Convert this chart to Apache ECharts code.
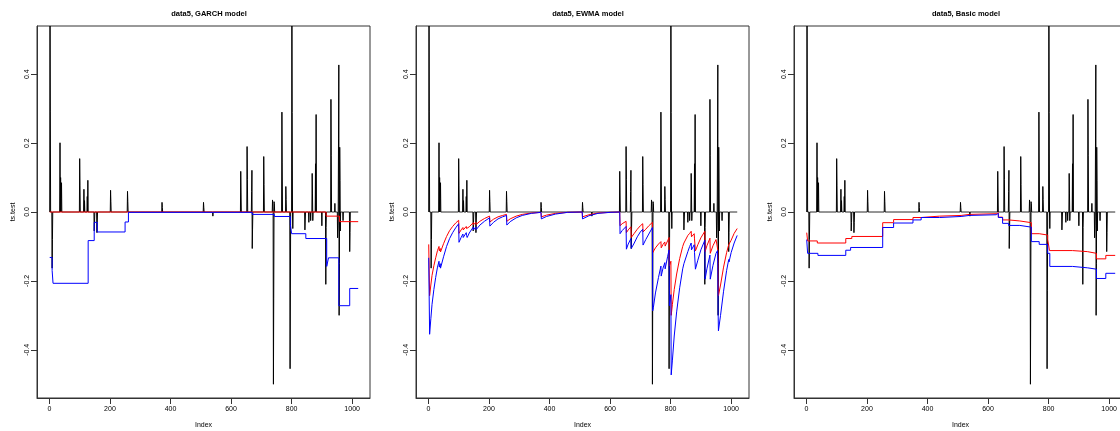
<!DOCTYPE html>
<html>
<head>
<meta charset="utf-8">
<script src="https://cdn.jsdelivr.net/npm/echarts@6/dist/echarts.min.js"></script>
<style>
  html, body { margin: 0; padding: 0; background: #ffffff; }
  #chart { width: 1120px; height: 431px; }
</style>
</head>
<body>
<div id="chart"></div>
<script>
// ---- data: test returns (sparse: every index not listed is exactly 0) ----
const N = 1020;
const spikeIndex = [2, 3, 9, 10, 35, 37, 39, 40, 100, 101, 114, 116, 125, 127, 148, 149, 157, 158,
  202, 203, 258, 259, 372, 373, 509, 510, 540, 632, 633, 653, 654, 668, 669, 670, 671, 708, 709,
  737, 738, 740, 741, 742, 743, 768, 769, 781, 782, 795, 796, 801, 802, 804, 844, 845, 857, 863,
  868, 869, 870, 879, 881, 900, 913, 914, 930, 931, 943, 952, 953, 955, 956, 957, 958, 959, 960,
  961, 970, 992, 993];
const spikeValue = [0.62, 0.293, -0.163, -0.08, 0.201, 0.10, 0.04, 0.085, 0.155, 0.078, 0.066, 0.033,
  0.045, 0.092, -0.055, -0.03, -0.06, -0.03, 0.063, 0.031, 0.06, 0.03, 0.028, 0.013, 0.028, 0.013,
  -0.012, 0.118, 0.058, 0.19, 0.095, 0.06, 0.121, -0.106, -0.052, 0.161, 0.08, 0.035, 0.015, -0.5,
  -0.25, 0.03, 0.025, 0.29, 0.145, 0.074, 0.036, -0.455, -0.227, 0.62, 0.289, -0.048, -0.052, -0.026,
  -0.03, -0.025, 0.112, 0.055, -0.025, 0.14, 0.283, -0.04, -0.21, -0.045, 0.327, 0.163, 0.025,
  -0.075, -0.04, 0.212, 0.427, -0.3, -0.15, 0.188, 0.092, -0.055, -0.025, -0.115, -0.06];

// ---- GARCH model VaR: step levels as [first index, value] ----
const garchRed = [[1, 0], [914, -0.012], [958, -0.028]];
const garchBlue = [[1, -0.132], [9, -0.17], [12, -0.207], [128, -0.083], [148, -0.03], [158, -0.058],
  [250, -0.029], [261, -0.001], [670, -0.007], [743, -0.013], [796, -0.037], [800, -0.063],
  [847, -0.077], [916, -0.158], [922, -0.133], [956, -0.272], [992, -0.222]];

// ---- EWMA model VaR: [index, value] ----
const ewmaRed = [[1, -0.094], [3, -0.094], [4, -0.243], [8, -0.212], [12, -0.184], [18, -0.156],
  [24, -0.133], [30, -0.112], [35, -0.1], [36, -0.113], [39, -0.106], [40, -0.116], [41, -0.118],
  [50, -0.092], [60, -0.071], [70, -0.054], [80, -0.042], [90, -0.032], [100, -0.024], [101, -0.062],
  [108, -0.052], [114, -0.045], [115, -0.052], [125, -0.042], [126, -0.048], [128, -0.052],
  [135, -0.043], [148, -0.031], [149, -0.037], [157, -0.03], [158, -0.036], [170, -0.027],
  [185, -0.019], [202, -0.012], [203, -0.029], [215, -0.021], [230, -0.014], [245, -0.01],
  [258, -0.007], [259, -0.027], [270, -0.02], [290, -0.012], [310, -0.007], [340, -0.003],
  [372, -0.001], [373, -0.014], [390, -0.009], [420, -0.004], [460, -0.001], [508, 0], [509, -0.014],
  [530, -0.008], [560, -0.003], [600, -0.001], [632, 0], [633, -0.04], [640, -0.034], [653, -0.027],
  [654, -0.06], [660, -0.052], [669, -0.043], [670, -0.074], [680, -0.062], [690, -0.05],
  [700, -0.04], [708, -0.034], [709, -0.058], [718, -0.05], [728, -0.04], [740, -0.03],
  [741, -0.118], [743, -0.114], [750, -0.104], [760, -0.093], [768, -0.086], [769, -0.104],
  [775, -0.094], [781, -0.087], [782, -0.099], [790, -0.084], [795, -0.074], [796, -0.157],
  [801, -0.143], [802, -0.3], [806, -0.268], [812, -0.225], [820, -0.18], [830, -0.135], [840, -0.1],
  [844, -0.09], [845, -0.093], [857, -0.068], [858, -0.07], [863, -0.062], [864, -0.063],
  [868, -0.056], [869, -0.072], [878, -0.063], [879, -0.078], [881, -0.074], [882, -0.113],
  [890, -0.095], [900, -0.075], [913, -0.056], [914, -0.115], [920, -0.098], [930, -0.076],
  [931, -0.12], [940, -0.098], [950, -0.08], [953, -0.082], [955, -0.078], [956, -0.11], [957, -0.2],
  [958, -0.243], [960, -0.245], [965, -0.212], [975, -0.16], [985, -0.118], [992, -0.095],
  [993, -0.1], [1000, -0.082], [1010, -0.062], [1020, -0.048]];
const ewmaBlue = [[1, -0.133], [3, -0.133], [4, -0.355], [8, -0.31], [12, -0.268], [18, -0.225],
  [24, -0.19], [30, -0.16], [35, -0.143], [36, -0.16], [39, -0.15], [40, -0.163], [41, -0.168],
  [50, -0.13], [60, -0.1], [70, -0.077], [80, -0.06], [90, -0.046], [100, -0.034], [101, -0.088],
  [108, -0.074], [114, -0.064], [115, -0.074], [125, -0.06], [126, -0.068], [128, -0.074],
  [135, -0.061], [148, -0.044], [149, -0.052], [157, -0.043], [158, -0.051], [170, -0.038],
  [185, -0.027], [202, -0.017], [203, -0.041], [215, -0.03], [230, -0.02], [245, -0.014],
  [258, -0.01], [259, -0.038], [270, -0.028], [290, -0.017], [310, -0.01], [340, -0.004],
  [372, -0.001], [373, -0.02], [390, -0.013], [420, -0.006], [460, -0.001], [508, 0], [509, -0.02],
  [530, -0.011], [560, -0.004], [600, -0.001], [632, 0], [633, -0.063], [640, -0.054], [653, -0.042],
  [654, -0.108], [660, -0.093], [669, -0.077], [670, -0.106], [680, -0.09], [690, -0.072],
  [700, -0.058], [708, -0.05], [709, -0.096], [718, -0.08], [728, -0.064], [740, -0.045],
  [741, -0.287], [743, -0.278], [750, -0.235], [760, -0.19], [768, -0.157], [769, -0.186],
  [775, -0.163], [781, -0.147], [782, -0.165], [790, -0.13], [795, -0.11], [796, -0.272],
  [801, -0.24], [802, -0.473], [806, -0.43], [812, -0.36], [820, -0.29], [830, -0.22], [840, -0.165],
  [844, -0.15], [845, -0.153], [857, -0.115], [858, -0.117], [863, -0.1], [864, -0.102],
  [868, -0.09], [869, -0.11], [878, -0.095], [879, -0.117], [881, -0.112], [882, -0.166],
  [890, -0.14], [900, -0.11], [913, -0.082], [914, -0.195], [920, -0.165], [930, -0.125],
  [931, -0.195], [940, -0.155], [950, -0.12], [953, -0.12], [955, -0.112], [956, -0.16], [957, -0.29],
  [958, -0.345], [960, -0.345], [965, -0.3], [975, -0.23], [985, -0.17], [992, -0.138],
  [993, -0.145], [1000, -0.118], [1010, -0.09], [1020, -0.068]];

// ---- Basic model VaR: step levels as [first index, value] ----
const basicRed = [[1, -0.06], [4, -0.084], [36, -0.09], [130, -0.077], [150, -0.071], [252, -0.031],
  [288, -0.022], [352, -0.016], [379, -0.012], [440, -0.01], [511, -0.007], [538, -0.005],
  [627, -0.002], [634, -0.015], [648, -0.023], [668, -0.026], [705, -0.031], [743, -0.063],
  [769, -0.067], [797, -0.08], [803, -0.112], [879, -0.115], [928, -0.12], [958, -0.136], [989, -0.126]];
const basicBlue = [[1, -0.08], [4, -0.12], [38, -0.126], [130, -0.111], [146, -0.103], [252, -0.045],
  [288, -0.032], [352, -0.023], [379, -0.016], [440, -0.013], [511, -0.01], [538, -0.008],
  [627, -0.004], [634, -0.016], [648, -0.033], [668, -0.039], [705, -0.044], [743, -0.086],
  [769, -0.094], [797, -0.12], [804, -0.158], [879, -0.162], [928, -0.166], [958, -0.193], [989, -0.178]];

// ---- axis ticks ----
const xTicks = [0, 200, 400, 600, 800, 1000];
const yTicks = [-0.4, -0.2, 0, 0.2, 0.4];
const panelTitles = ['data5, GARCH model', 'data5, EWMA model', 'data5, Basic model'];

// full return series, one value per index
const returns = [];
for (let i = 1; i <= N; i++) returns.push([i, 0]);
spikeIndex.forEach((idx, k) => { returns[idx - 1][1] = spikeValue[k]; });

// a step level list ends at the last index
function stepData(levels) {
  const d = levels.map(p => [p[0], p[1]]);
  d.push([N, levels[levels.length - 1][1]]);
  return d;
}

// the return series is stroked as one plain polyline through every index
function renderReturns(params, api) {
  if (params.dataIndex !== 0) return null;
  const pts = returns.map(p => api.coord(p));
  return {
    type: 'polyline',
    shape: { points: pts },
    style: { stroke: '#000', lineWidth: 1, fill: null, lineJoin: 'miter', miterLimit: 2 },
    silent: true
  };
}

const FONT = 'Liberation Sans, Arial, sans-serif';
const AXIS_COLOR = '#333';
const panels = [
  { left: 37, center: 204, red: stepData(garchRed), blue: stepData(garchBlue), step: 'end' },
  { left: 416, center: 583, red: ewmaRed, blue: ewmaBlue, step: false },
  { left: 794, center: 961, red: stepData(basicRed), blue: stepData(basicBlue), step: 'end' }
];

const option = {
  animation: false,
  backgroundColor: '#ffffff',
  title: panels.map((p, k) => ({
    text: panelTitles[k], left: p.center, top: 5, textAlign: 'center',
    textStyle: { fontFamily: FONT, fontSize: 7.5, fontWeight: 'bold', color: '#000' }
  })),
  grid: panels.map(p => ({
    left: p.left, top: 26, width: 333, height: 372, show: true,
    outerBoundsMode: 'none', containLabel: false,
    borderColor: AXIS_COLOR, borderWidth: 1, backgroundColor: 'transparent'
  })),
  xAxis: panels.map((p, k) => ({
    type: 'value', gridIndex: k, min: -41, max: 1059,
    name: 'Index', nameLocation: 'middle', nameGap: 24,
    nameTextStyle: { fontFamily: FONT, fontSize: 7, color: '#000' },
    axisLine: { show: true, onZero: false, lineStyle: { color: AXIS_COLOR, width: 1 } },
    splitLine: { show: false },
    axisTick: { show: true, inside: false, length: 6, customValues: xTicks,
      lineStyle: { color: AXIS_COLOR, width: 1 } },
    axisLabel: { customValues: xTicks, fontFamily: FONT, fontSize: 7, color: '#000', margin: 8,
      formatter: v => String(v) }
  })),
  yAxis: panels.map((p, k) => ({
    type: 'value', gridIndex: k, min: -0.54, max: 0.54,
    name: 'ts.test', nameLocation: 'middle', nameGap: 20, nameRotate: 90,
    nameTextStyle: { fontFamily: FONT, fontSize: 7, color: '#000' },
    axisLine: { show: true, onZero: false, lineStyle: { color: AXIS_COLOR, width: 1 } },
    splitLine: { show: false },
    axisTick: { show: true, inside: false, length: 6, customValues: yTicks,
      lineStyle: { color: AXIS_COLOR, width: 1 } },
    axisLabel: { customValues: yTicks, rotate: 90, fontFamily: FONT, fontSize: 7, color: '#000', margin: 6,
      formatter: v => v.toFixed(1) }
  })),
  series: []
};

panels.forEach((p, k) => {
  option.series.push({
    type: 'custom', xAxisIndex: k, yAxisIndex: k, data: returns, renderItem: renderReturns,
    clip: true, silent: true
  });
  option.series.push({
    type: 'line', xAxisIndex: k, yAxisIndex: k, data: p.red, step: p.step, showSymbol: false, clip: true,
    lineStyle: { color: '#ff0000', width: 1 }, silent: true
  });
  option.series.push({
    type: 'line', xAxisIndex: k, yAxisIndex: k, data: p.blue, step: p.step, showSymbol: false, clip: true,
    lineStyle: { color: '#0000ff', width: 1 }, silent: true
  });
});

const chart = echarts.init(document.getElementById('chart'), null, { renderer: 'canvas' });
chart.setOption(option);
</script>
</body>
</html>
